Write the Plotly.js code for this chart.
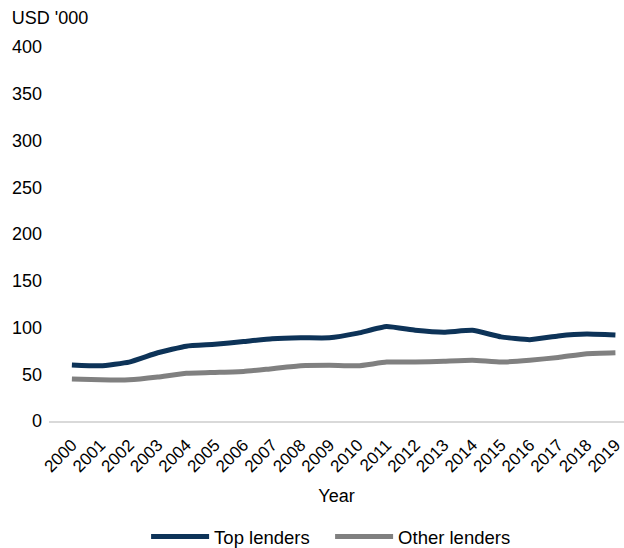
<!DOCTYPE html>
<html>
<head>
<meta charset="utf-8">
<script src="https://cdn.plot.ly/plotly-3.0.1.min.js"></script>
<style>
  html, body { margin: 0; padding: 0; background: #fff; }
  #chart { width: 624px; height: 548px; }
</style>
</head>
<body>
<div id="chart"></div>
<script>
// Average loan size by lender group, USD '000
const years = ['2000','2001','2002','2003','2004','2005','2006','2007','2008','2009',
               '2010','2011','2012','2013','2014','2015','2016','2017','2018','2019'];
const topLenders   = [60, 59, 63, 73, 80, 82, 85, 88, 89, 89, 94, 101, 97, 95, 97, 90, 87, 91, 93, 92];
const otherLenders = [45, 44, 44, 47, 51, 52, 53, 56, 59, 59.5, 59, 63, 63, 64, 65, 63, 65, 68, 72, 73];

const FONT = 'Liberation Sans, Arial, sans-serif';

const traces = [
  {
    x: years, y: topLenders, name: 'Top lenders', type: 'scatter', mode: 'lines',
    line: { color: '#0d3358', width: 5, shape: 'spline', smoothing: 0.4 }
  },
  {
    x: years, y: otherLenders, name: 'Other lenders', type: 'scatter', mode: 'lines',
    line: { color: '#808080', width: 5, shape: 'spline', smoothing: 0.4 }
  }
];

const layout = {
  width: 624, height: 548,
  margin: { l: 49, r: 0, t: 47, b: 127 },
  paper_bgcolor: '#fff', plot_bgcolor: '#fff',
  font: { family: FONT, size: 18, color: '#000' },
  title: {
    text: "USD '000", x: 0.019, xanchor: 'left', xref: 'container',
    y: 0.967, yanchor: 'middle', yref: 'container',
    font: { family: FONT, size: 18, color: '#000' }
  },
  xaxis: {
    type: 'category',
    range: [-0.8, 19.3],
    tickangle: -45,
    tickfont: { size: 17 },
    ticklabelstandoff: 6,
    showgrid: false, zeroline: false,
    showline: true, linecolor: '#d9d9d9', linewidth: 1.5,
    ticks: '',
    title: { text: 'Year', font: { size: 18 }, standoff: 14 }
  },
  yaxis: {
    range: [0, 400],
    dtick: 50,
    showgrid: false, zeroline: false, showline: false,
    ticks: '',
    ticklabelstandoff: 6,
    tickfont: { size: 18 }
  },
  legend: {
    orientation: 'h',
    x: 0.529, xanchor: 'center', xref: 'container',
    y: 0.02, yanchor: 'middle', yref: 'container',
    font: { size: 18.5 },
    itemwidth: 58,
    entrywidth: 111
  },
  showlegend: true
};

Plotly.newPlot('chart', traces, layout, { displayModeBar: false, staticPlot: true });
</script>
</body>
</html>
